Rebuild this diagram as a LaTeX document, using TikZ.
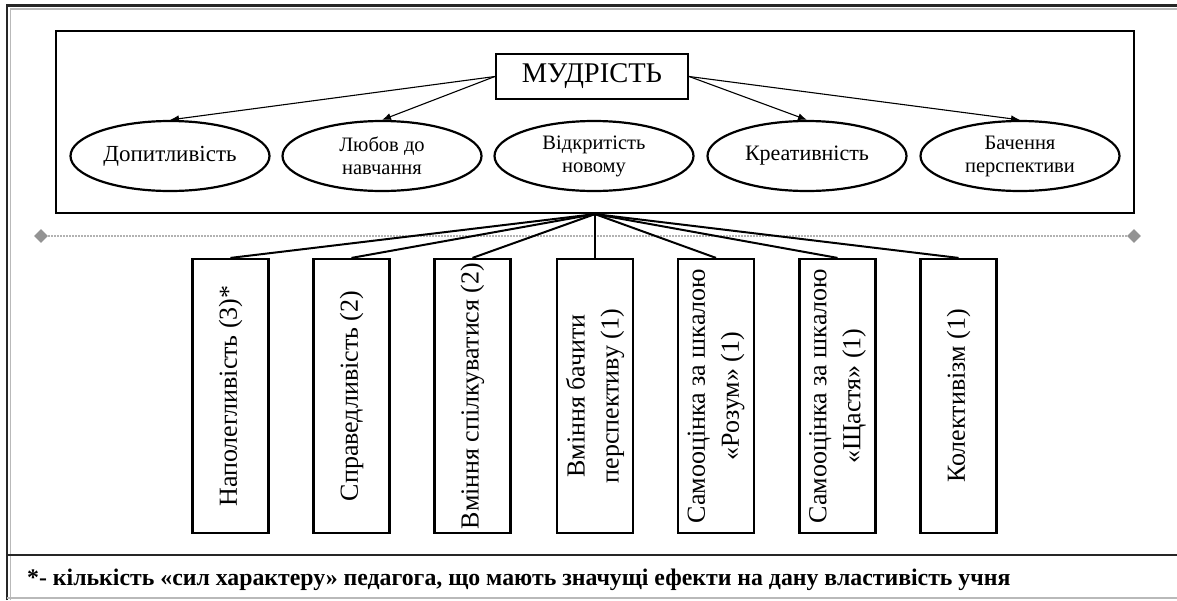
\documentclass[tikz,border=0pt]{standalone}
\usepackage{fontspec}
\setmainfont{Liberation Serif}
\usetikzlibrary{shapes.geometric,arrows.meta}
\begin{document}
\begin{tikzpicture}[x=1pt,y=-1pt,
    trait/.style={ellipse, draw, line width=2.2pt, minimum width=199pt, minimum height=70pt, inner sep=0pt, align=center},
    effect/.style={rectangle, draw, line width=2.2pt, rotate=90, minimum width=274pt, minimum height=76pt, inner sep=0pt, align=center, font=\fontsize{26}{34}\selectfont},
    link/.style={line width=2pt},
    pointer/.style={line width=1.1pt, -{Latex[length=9pt,width=7pt]}}]
        \useasboundingbox (0,0) rectangle (1177,600);

        % frame of the page
        \draw[line width=2.8pt, black!85] (7,600) -- (7,5.5) -- (1177,5.5);
        \draw[line width=1.6pt, gray!55] (10.5,600) -- (10.5,8.8) -- (1177,8.8);
        \draw[line width=2.4pt, black!85] (7,555) -- (1177,555);
        \draw[line width=1.6pt, gray!55] (7,598) -- (1177,598);

        \node[draw, line width=2.2pt, minimum width=1078pt, minimum height=182pt] (group) at (595,122) {};
        \node[draw, line width=2.2pt, minimum width=192pt, minimum height=45pt, font=\fontsize{28.5}{32}\selectfont] (wisdom) at (592,76.5) {МУДРІСТЬ};

        \node[trait, font=\fontsize{23}{25}\selectfont] (e1) at (170,156) {Допитливість};
        \node[trait, font=\fontsize{20.5}{23}\selectfont] (e2) at (382,156) {Любов до\\навчання};
        \node[trait, font=\fontsize{20.5}{23}\selectfont] (e3) at (594,156) {Відкритість\\новому};
        \node[trait, font=\fontsize{22}{25}\selectfont] (e4) at (807,156) {Креативність};
        \node[trait, font=\fontsize{20.5}{23}\selectfont] (e5) at (1020,156) {Бачення\\перспективи};

        \draw[pointer] (wisdom.west) -- (e1.north);
        \draw[pointer] (wisdom.west) -- (e2.north);
        \draw[pointer] (wisdom.east) -- (e4.north);
        \draw[pointer] (wisdom.east) -- (e5.north);

        % dotted divider
        \node[diamond, fill=gray!85, minimum size=14pt, inner sep=0pt] (dl) at (41,236) {};
        \node[diamond, fill=gray!85, minimum size=14pt, inner sep=0pt] (dr) at (1134,236) {};
        \draw[gray!60, line width=1.2pt, dash pattern=on 1.5pt off 1.5pt] (dl) -- (dr);

        \node[effect] (b1) at (230.5,396) {Наполегливість (3)*};
        \node[effect] (b2) at (351.5,396) {Справедливість (2)};
        \node[effect] (b3) at (472.5,396) {Вміння спілкуватися (2)};
        \node[effect] (b4) at (595,396) {Вміння бачити\\перспективу (1)};
        \node[effect] (b5) at (716,396) {Самооцінка за шкалою\\«Розум» (1)};
        \node[effect] (b6) at (837.5,396) {Самооцінка за шкалою\\«Щастя» (1)};
        \node[effect] (b7) at (958.5,396) {Колективізм (1)};

        \draw[link] (group.south) -- (b1.east);
        \draw[link] (group.south) -- (b2.east);
        \draw[link] (group.south) -- (b3.east);
        \draw[link] (group.south) -- (b4.east);
        \draw[link] (group.south) -- (b5.east);
        \draw[link] (group.south) -- (b6.east);
        \draw[link] (group.south) -- (b7.east);

        \node[anchor=base west, inner sep=0pt, font=\fontsize{23.8}{28}\selectfont\bfseries] (note) at (27,585) {*- кількість «сил характеру» педагога, що мають значущі ефекти на дану властивість учня};
      \end{tikzpicture}
\end{document}
